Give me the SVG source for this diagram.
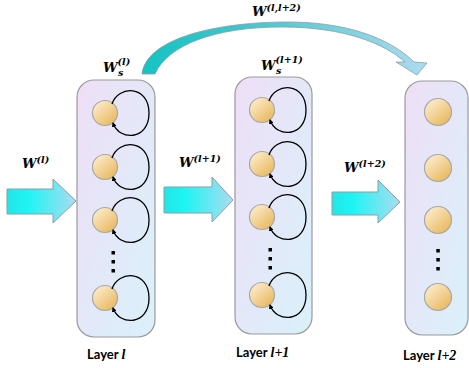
<svg xmlns="http://www.w3.org/2000/svg" width="469" height="368" viewBox="0 0 469 368">
<defs>
<linearGradient id="boxg" x1="0" y1="0" x2="1" y2="1">
<stop offset="0" stop-color="#eedff6"/>
<stop offset="1" stop-color="#d9f1fb"/>
</linearGradient>
<linearGradient id="nodeg" x1="0.15" y1="0.1" x2="0.85" y2="0.9">
<stop offset="0" stop-color="#fcebc8"/>
<stop offset="1" stop-color="#e9b95f"/>
</linearGradient>
<linearGradient id="arrg" x1="0" y1="0" x2="1" y2="0">
<stop offset="0" stop-color="#22e6e6"/>
<stop offset="0.3" stop-color="#1ef4f4"/>
<stop offset="1" stop-color="#abdcef"/>
</linearGradient>
<linearGradient id="curg" gradientUnits="userSpaceOnUse" x1="142" y1="0" x2="427" y2="0">
<stop offset="0" stop-color="#14c3c3"/>
<stop offset="0.35" stop-color="#3fc6cc"/>
<stop offset="1" stop-color="#acdcef"/>
</linearGradient>
<marker id="ah" viewBox="0 0 10 10" refX="8" refY="5" markerWidth="5" markerHeight="5" orient="auto" markerUnits="userSpaceOnUse">
<path d="M0,0 L10,5 L0,10 Z" fill="#000"/>
</marker>
<g id="loop">
<path d="M7,-9 C13,-28 44,-28 44,0 C44,28 14,28 8,10" fill="none" stroke="#000" stroke-width="1.3" marker-end="url(#ah)"/>
</g>
</defs>
<style>
.box{fill:url(#boxg);stroke:#9a9a9a;stroke-width:1.2}
.node{fill:url(#nodeg);stroke:#a8a8a8;stroke-width:1.2}
.barr{fill:url(#arrg);stroke:#8f9da3;stroke-width:1}
.dot{fill:#000}
.w{font-family:"DejaVu Serif",serif;font-weight:bold;font-style:italic;fill:#000}
.lay{font-family:"Lato","Liberation Sans",sans-serif;font-weight:bold;font-size:13px;fill:#000}
.it{font-family:"Liberation Serif",serif;font-style:italic;font-size:14px}
</style>

<g id="connectors">
<path class="barr" d="M7,189 L53,189 L53,179 L76,201 L53,223 L53,214 L7,214 Z"/>
<path class="barr" d="M164,187 L212,187 L212,177 L233,200 L212,222 L212,213 L164,213 Z"/>
<path class="barr" d="M332,192 L378,192 L378,180 L400,202 L378,223 L378,215 L332,215 Z"/>
<path d="M142,74 C146,40 210,23 282,22 C345,21 390,38 414,62 L427,63 L417,75 L396,62 L405,62 C385,44 345,27 282,27 C215,27 168,45 155,74 Z" fill="url(#curg)" stroke="#8f9da3" stroke-width="0.8"/>
</g>

<g id="layer1">
<rect class="box" x="77" y="80" width="78" height="257" rx="17"/>
<circle class="node" cx="105" cy="113" r="12.5"/>
<circle class="node" cx="105" cy="167" r="12.5"/>
<circle class="node" cx="105" cy="220" r="12.5"/>
<circle class="node" cx="105" cy="298" r="12.5"/>
<use href="#loop" x="105" y="113"/>
<use href="#loop" x="105" y="167"/>
<use href="#loop" x="105" y="220"/>
<use href="#loop" x="105" y="298"/>
<rect class="dot" x="111.5" y="251" width="3.5" height="3.5"/>
<rect class="dot" x="111.5" y="260" width="3.5" height="3.5"/>
<rect class="dot" x="111.5" y="269" width="3.5" height="3.5"/>
</g>

<g id="layer2">
<rect class="box" x="235" y="77" width="77" height="257" rx="17"/>
<circle class="node" cx="262" cy="110" r="12.5"/>
<circle class="node" cx="262" cy="164" r="12.5"/>
<circle class="node" cx="262" cy="217" r="12.5"/>
<circle class="node" cx="262" cy="295" r="12.5"/>
<use href="#loop" x="262" y="110"/>
<use href="#loop" x="262" y="164"/>
<use href="#loop" x="262" y="217"/>
<use href="#loop" x="262" y="295"/>
<rect class="dot" x="268.5" y="248" width="3.5" height="3.5"/>
<rect class="dot" x="268.5" y="257" width="3.5" height="3.5"/>
<rect class="dot" x="268.5" y="266" width="3.5" height="3.5"/>
</g>

<g id="layer3">
<rect class="box" x="405" y="81" width="63" height="254" rx="17"/>
<circle class="node" cx="438" cy="112" r="13.5"/>
<circle class="node" cx="438" cy="168" r="13.5"/>
<circle class="node" cx="438" cy="220" r="13.5"/>
<circle class="node" cx="438" cy="297" r="13.5"/>
<rect class="dot" x="436.3" y="249" width="3.5" height="3.5"/>
<rect class="dot" x="436.3" y="258" width="3.5" height="3.5"/>
<rect class="dot" x="436.3" y="267" width="3.5" height="3.5"/>
</g>

<g id="labels">
<text class="w" x="252" y="16" font-size="13">W<tspan font-size="9.5" dy="-5">(l,l+2)</tspan></text>
<text class="w" x="103" y="72" font-size="13">W<tspan font-size="9.5" dy="-7">(l)</tspan><tspan font-size="9.5" x="118" dy="11">s</tspan></text>
<text class="w" x="261" y="70" font-size="13">W<tspan font-size="9.5" dy="-7">(l+1)</tspan><tspan font-size="9.5" x="276" dy="11">s</tspan></text>
<text class="w" x="22" y="168" font-size="13">W<tspan font-size="9.5" dy="-5">(l)</tspan></text>
<text class="w" x="179" y="167" font-size="13">W<tspan font-size="9.5" dy="-5">(l+1)</tspan></text>
<text class="w" x="344" y="172" font-size="13">W<tspan font-size="9.5" dy="-5">(l+2)</tspan></text>
<text class="lay" x="87" y="359">Layer <tspan class="it">l</tspan></text>
<text class="lay" x="236" y="357">Layer <tspan class="it">l+1</tspan></text>
<text class="lay" x="403" y="360">Layer <tspan class="it">l+2</tspan></text>
</g>
</svg>
